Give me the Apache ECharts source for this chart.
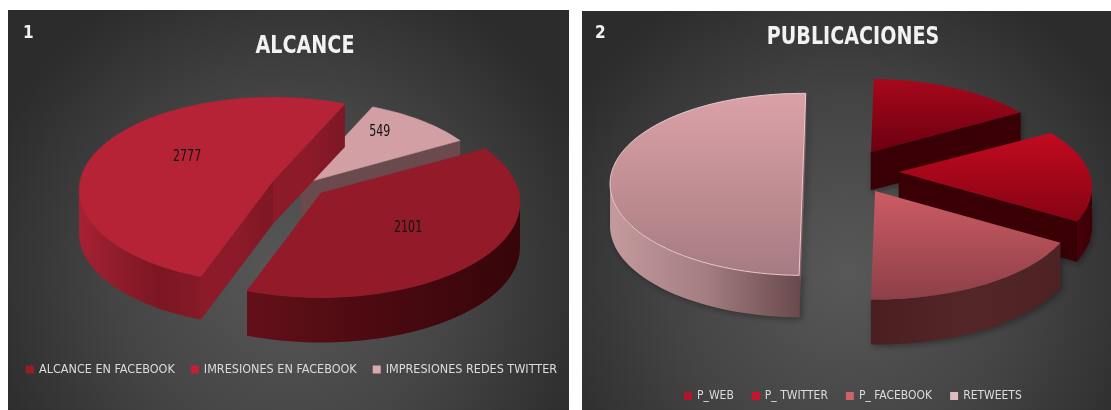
<!DOCTYPE html>
<html><head><meta charset="utf-8">
<style>html,body{margin:0;padding:0;background:#fff}#c{width:1111px;height:410px}</style>
<script src="https://cdn.jsdelivr.net/npm/echarts@6/dist/echarts.min.js"></script>
</head><body><div id="c"></div>
<script>
// ---- data ----
const categories1 = ['ALCANCE EN FACEBOOK', 'IMRESIONES EN FACEBOOK', 'IMPRESIONES REDES TWITTER'];
const values1 = [2101, 2777, 549];
const categories2 = ['P_WEB', 'P_ TWITTER', 'P_ FACEBOOK', 'RETWEETS'];
const values2 = [10, 10, 10, 30];
const titles = ['ALCANCE', 'PUBLICACIONES'];
const panelNumbers = ['1', '2'];

// ---- layout and style ----
const FONT = '"DejaVu Sans Condensed",sans-serif';
const vert = (a, b) => ({type:'linear',x:0,y:0,x2:0,y2:1,colorStops:[{offset:0,color:a},{offset:1,color:b}]});
const horiz = (stops) => ({type:'linear',x:0,y:0,x2:1,y2:0,colorStops:stops.map((c,i)=>({offset:i/(stops.length-1),color:c}))});

const startAngle1 = 60.6, startAngle2 = 1, perspective1 = 0.1, perspective2 = 0.18;
const style1 = [
  {cx:321,cy:193,rx:198,ry:95,d:45,lab:[.44,.37],legend:'#9c1b2b',top:'#931a29',wall:horiz(['#641019','#4a0a10','#36050a']),face:'#5a0d14',order:2},
  {cx:273,cy:181,rx:193,ry:93,d:43,lab:[-.445,-.26],legend:'#c42034',top:'#b72336',wall:horiz(['#a62133','#8f1c2a','#7c1622','#861a27']),face:horiz(['#8c1a28','#8c1a28','#7e1724']),order:1},
  {cx:301,cy:184,rx:192,ry:93,d:33,lab:[.41,-.56],legend:'#d9a9ad',top:'#d2a0a4',wall:'#6b4a4d',face:'#6b4a4d',order:0}
];
const style2 = [
  {cx:871,cy:152,rx:187,ry:89,d:38,legend:'#b2142a',top:vert('#a8081c','#6c0010'),wall:'#3a0006',face:'#3a0006',order:1},
  {cx:899,cy:172,rx:190,ry:88,d:40,legend:'#c9152c',top:vert('#c20a20','#860314'),wall:horiz(['#4a000a','#3a0006']),face:'#3a0006',order:2},
  {cx:875,cy:191,rx:198,ry:92,d:45,legend:'#d0616b',top:vert('#cc5c64','#8e3f48'),wall:horiz(['#4a1e20','#552628','#4e2224']),face:'#4a1e20',order:3},
  {cx:803,cy:168,rx:190,ry:91,d:42,legend:'#e0bcbf',top:vert('#dba2a8','#a67b80'),wall:horiz(['#c49a9d','#a47e81','#6a4a4c']),face:'#8a676a',order:0,stroke:'#e9c9cc'}
];

function pt(s, deg, k, dy) {
  const t = deg * Math.PI / 180, f = 1 - k * Math.cos(t);
  return [s.cx + s.rx * Math.sin(t) * f, s.cy - s.ry * Math.cos(t) * f + (dy || 0)];
}
function arc(s, a, b, k, dy) {
  const pts = [], n = Math.max(2, Math.ceil(Math.abs(b - a) / 2));
  for (let i = 0; i <= n; i++) pts.push(pt(s, a + (b - a) * i / n, k, dy));
  return pts;
}
function sliceRender(values, styles, start, k, idx, showLabel) {
  return function (params, api) {
    const value = api.value(0);
    const total = values.reduce((p, c) => p + c, 0);
    const before = values.slice(0, idx).reduce((p, c) => p + c, 0);
    const a = start + before / total * 360, b = a + value / total * 360;
    const s = styles[idx], apex = [s.cx, s.cy], below = [s.cx, s.cy + s.d];
    const children = [];
    const shadow = values === values2 ? {shadowBlur:6,shadowColor:'rgba(0,0,0,.35)',shadowOffsetX:2,shadowOffsetY:2} : {};
    const poly = (points, fill, extra) => children.push({type:'polygon',shape:{points},style:Object.assign({fill,stroke:fill.colorStops?null:fill,lineWidth:.5},extra||{})});
    [[a, a - 90], [b, b + 90]].forEach(([edge, normal]) => {
      if (Math.cos(normal * Math.PI / 180) < -0.001) {
        poly([apex, pt(s, edge, k), pt(s, edge, k, s.d), below], s.face, shadow);
      }
    });
    const m = Math.asin(k) * 180 / Math.PI;
    [[90 + m, 270 - m], [450 + m, 630 - m]].forEach(([lo, hi]) => {
      const p = Math.max(a, lo), q = Math.min(b, hi);
      if (q > p) poly(arc(s, p, q, k, 0).concat(arc(s, q, p, k, s.d)), s.wall, shadow);
    });
    poly([apex].concat(arc(s, a, b, k, 0)), s.top, s.stroke ? {stroke:s.stroke,lineWidth:1} : {});
    if (showLabel) {
      children.push({type:'text',x:s.cx+s.lab[0]*s.rx,y:s.cy+s.lab[1]*s.ry,scaleX:.82,
        style:{text:String(value),x:0,y:0,align:'center',verticalAlign:'middle',fill:'#111',font:'15px '+FONT}});
    }
    return {type:'group',children};
  };
}
function buildSeries(cats, values, styles, start, k, showLabel) {
  return cats.map((name, i) => ({
    name, type:'custom', coordinateSystem:'none', silent:true,
    data:[values[i]], itemStyle:{color:styles[i].legend},
    renderItem:sliceRender(values, styles, start, k, i, showLabel), order:styles[i].order
  })).sort((x, y) => x.order - y.order);
}
const panelFill = () => ({type:'radial',x:.5,y:.66,r:.8,colorStops:[{offset:0,color:'#585858'},{offset:.55,color:'#444444'},{offset:1,color:'#2c2c2c'}]});
const heading = (text, x, y) => ({type:'text',z:10,x,y,scaleX:.85,style:{text,x:0,y:0,align:'center',verticalAlign:'middle',fill:'#f2f2f2',font:'bold 25px '+FONT}});
const numStyle = {color:'#f2f2f2',fontFamily:FONT,fontWeight:'bold',fontSize:17};
const legendBase = {orient:'horizontal',icon:'rect',itemWidth:8,itemHeight:8,selectedMode:false,padding:0};

const chart = echarts.init(document.getElementById('c'), null, {renderer:'canvas'});
chart.setOption({
  animation:false,
  backgroundColor:'#ffffff',
  graphic:[
    {type:'rect',z:-10,shape:{x:8,y:10,width:561,height:400},style:{fill:panelFill()}},
    {type:'rect',z:-10,shape:{x:582,y:11,width:529,height:399},style:{fill:panelFill()}},
    heading(titles[0],305,46),
    heading(titles[1],853,37)
  ],
  title:[
    {text:panelNumbers[0],left:23,top:25,textStyle:numStyle,padding:0},
    {text:panelNumbers[1],left:595,top:25,textStyle:numStyle,padding:0}
  ],
  legend:[
    Object.assign({},legendBase,{data:categories1,left:26,top:363,itemGap:16,textStyle:{color:'#dcdcdc',fontFamily:FONT,fontSize:12.5}}),
    Object.assign({},legendBase,{data:categories2,left:684,top:390,itemGap:18,textStyle:{color:'#dcdcdc',fontFamily:FONT,fontSize:12}})
  ],
  series:buildSeries(categories1,values1,style1,startAngle1,perspective1,true).concat(buildSeries(categories2,values2,style2,startAngle2,perspective2,false))
});
</script></body></html>
